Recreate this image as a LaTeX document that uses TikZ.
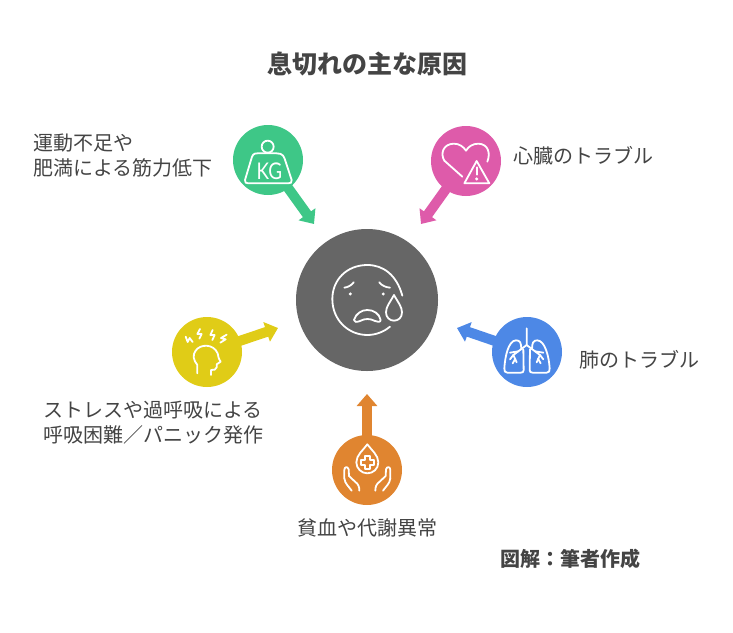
\documentclass[tikz,border=0pt]{standalone}
\usepackage{fontspec}
\setmainfont{Noto Sans CJK JP}
\newfontfamily\kgfont{Lato}
\usetikzlibrary{arrows.meta}
\definecolor{kggreen}{HTML}{3EC787}
\definecolor{heartpink}{HTML}{DE5BAA}
\definecolor{facegrey}{HTML}{666666}
\definecolor{lungblue}{HTML}{4D88E6}
\definecolor{headyellow}{HTML}{E0CC17}
\definecolor{bloodorange}{HTML}{E08530}
\definecolor{labelgrey}{HTML}{444444}
\tikzset{
  causedot/.style={circle,minimum size=70pt,inner sep=0pt,fill=#1},
  causearrow/.style={line width=10pt,draw=#1,-{Triangle[length=12pt,width=20pt]}},
  icon/.style={white,line width=1.8pt,line cap=round,line join=round},
  label/.style={text=labelgrey,font=\fontsize{20}{25}\selectfont,inner sep=0pt},
  boldlabel/.style={text=labelgrey,font=\fontsize{#1}{#1}\selectfont\bfseries,inner sep=0pt},
}
\begin{document}
\begin{tikzpicture}[x=1pt,y=-1pt]
    \useasboundingbox (0,0) rectangle (733,632);
    \node[boldlabel=25] (title) at (367,64) {息切れの主な原因};
    \node[boldlabel=20] (credit) at (570,559) {図解：筆者作成};
    %% Centre
    \node[circle,minimum size=142pt,inner sep=0pt,fill=facegrey] (face) at (367,300) {};
    %% Causes
    \node[causedot=kggreen] (weight) at (268,160) {};
    \node[causedot=heartpink] (heart) at (466,161) {};
    \node[causedot=lungblue] (lung) at (527,352) {};
    \node[causedot=headyellow] (head) at (207,352) {};
    \node[causedot=bloodorange] (blood) at (367,470) {};
    %% Arrow ends
    \coordinate (weighttip) at (314,224);
    \coordinate (hearttip) at (421,224);
    \coordinate (lungtip) at (457,328);
    \coordinate (headtip) at (278,328);
    \coordinate (bloodtip) at (367,394);
    \draw[causearrow=kggreen] (weight.center) -- (weighttip);
    \draw[causearrow=heartpink] (heart.center) -- (hearttip);
    \draw[causearrow=lungblue] (lung.center) -- (lungtip);
    \draw[causearrow=headyellow] (head.center) -- (headtip);
    \draw[causearrow=bloodorange] (blood.center) -- (bloodtip);
    %% Labels
    \node[label,anchor=west,align=left] (weightlabel) at (33,156) {運動不足や\\肥満による筋力低下};
    \node[label,anchor=west] (heartlabel) at (513.5,155.5) {心臓のトラブル};
    \node[label,anchor=west] (lunglabel) at (579,360) {肺のトラブル};
    \node[label,align=center] (headlabel) at (153,422.5) {ストレスや過呼吸による\\呼吸困難／パニック発作};
    \node[label] (bloodlabel) at (367,528) {貧血や代謝異常};
    %% Weight icon
    \begin{scope}[shift={(220,120)},x=0.3333pt,y=-0.3333pt]
        \draw[icon] (143,80) circle (18);
        \draw[icon] (112,100) -- (170,100) .. controls (190,100) and (192,110) .. (197,125)
            -- (215,180) .. controls (216,188) and (212,190) .. (205,190) -- (85,190)
            .. controls (78,190) and (74,188) .. (75,180) -- (93,120)
            .. controls (97,105) and (100,100) .. (112,100) -- cycle;
        \node[white,font=\kgfont\fontsize{23}{23}\selectfont,inner sep=0pt,xscale=0.82] (kg) at (148,153) {KG};
    \end{scope}
    %% Heart icon
    \begin{scope}[shift={(410,120)},x=0.3333pt,y=-0.3333pt]
        \draw[icon] (232,125) .. controls (242,100) and (235,72) .. (205,71)
            .. controls (188,71) and (175,80) .. (168,92)
            .. controls (160,80) and (148,71) .. (131,71)
            .. controls (100,72) and (90,100) .. (103,122) -- (157,170);
        \draw[icon] (200,123) -- (238,190) -- (163,190) -- cycle;
        \draw[icon] (200,142) -- (200,164);
        \fill[white] (200,177) circle (5);
    \end{scope}
    %% Face icon
    \begin{scope}[shift={(290,225)},x=0.3333pt,y=-0.3333pt]
        \draw[icon] (337,212) .. controls (320,150) and (280,120) .. (232,120)
            .. controls (170,120) and (127,165) .. (127,222)
            .. controls (127,285) and (175,330) .. (232,330)
            .. controls (258,330) and (282,320) .. (300,305);
        \draw[icon] (312,210) .. controls (300,232) and (288,245) .. (288,262)
            .. controls (288,278) and (300,287) .. (312,287)
            .. controls (325,287) and (336,278) .. (336,262)
            .. controls (336,245) and (324,232) .. (312,210) -- cycle;
        \draw[icon] (163,188) .. controls (172,187) and (184,182) .. (191,172);
        \draw[icon] (268,172) .. controls (275,182) and (288,187) .. (300,188);
        \fill[white] (181,207) circle (5);
        \fill[white] (280,207) circle (5);
        \draw[icon] (192,285) .. controls (198,265) and (215,255) .. (232,255)
            .. controls (250,255) and (268,265) .. (272,285)
            .. controls (272,292) and (262,292) .. (255,288)
            .. controls (240,280) and (225,280) .. (210,288)
            .. controls (200,292) and (192,292) .. (192,285) -- cycle;
    \end{scope}
    %% Lung icon
    \begin{scope}[shift={(450,310)},x=0.3333pt,y=-0.3333pt]
        \draw[icon] (230,55) -- (230,105) -- (190,135);
        \draw[icon] (230,105) -- (270,135);
        \draw[icon] (205,124) -- (180,128);
        \draw[icon] (190,135) -- (180,148);
        \draw[icon] (190,135) -- (200,157);
        \draw[icon] (196,146) -- (188,160);
        \draw[icon] (255,124) -- (280,128);
        \draw[icon] (270,135) -- (280,148);
        \draw[icon] (270,135) -- (260,157);
        \draw[icon] (264,146) -- (272,160);
        \draw[icon] (220,118) -- (221,180) .. controls (221,186) and (218,188) .. (212,188)
            -- (172,188) .. controls (165,188) and (162,183) .. (163,175)
            .. controls (165,140) and (175,92) .. (198,91)
            .. controls (210,91) and (214,98) .. (214,118);
        \draw[icon] (240,118) -- (239,180) .. controls (239,186) and (242,188) .. (248,188)
            -- (290,188) .. controls (297,188) and (300,183) .. (299,175)
            .. controls (297,140) and (285,92) .. (262,91)
            .. controls (250,91) and (246,98) .. (246,118);
    \end{scope}
    %% Head icon
    \begin{scope}[shift={(165,310)},x=0.3333pt,y=-0.3333pt]
        \draw[icon] (97,190) -- (97,165) .. controls (85,150) and (82,135) .. (92,122)
            .. controls (105,102) and (145,100) .. (158,130)
            .. controls (160,140) and (160,145) .. (167,155)
            -- (155,163) -- (155,172) .. controls (155,180) and (145,180) .. (138,180) -- (138,195);
        \draw[icon] (62,80) -- (68,96) -- (74,84) -- (83,96);
        \draw[icon] (105,57) -- (97,72) -- (110,72) -- (103,86);
        \draw[icon] (143,60) -- (136,75) -- (149,75) -- (142,90);
        \draw[icon] (185,74) -- (168,84) -- (182,88) -- (166,98);
    \end{scope}
    %% Blood icon
    \begin{scope}[shift={(325,390)},x=0.3333pt,y=-0.3333pt]
        \draw[icon] (127,163) .. controls (115,180) and (94,195) .. (94,217)
            .. controls (94,236) and (110,250) .. (127,250)
            .. controls (145,250) and (160,236) .. (160,217)
            .. controls (160,195) and (139,180) .. (127,163) -- cycle;
        \draw[icon] (119,198) -- (135,198) -- (135,209) -- (146,209) -- (146,225) -- (135,225)
            -- (135,236) -- (119,236) -- (119,225) -- (108,225) -- (108,209) -- (119,209) -- cycle;
        \draw[icon] (58,265) -- (58,240) .. controls (58,230) and (68,228) .. (71,238) -- (72,258)
            -- (90,275) .. controls (100,282) and (103,290) .. (103,302);
        \draw[icon] (58,265) .. controls (60,282) and (72,290) .. (80,302);
        \draw[icon] (196,265) -- (196,240) .. controls (196,230) and (186,228) .. (183,238) -- (182,258)
            -- (164,275) .. controls (154,282) and (151,290) .. (151,302);
        \draw[icon] (196,265) .. controls (194,282) and (182,290) .. (174,302);
    \end{scope}
\end{tikzpicture}
\end{document}
